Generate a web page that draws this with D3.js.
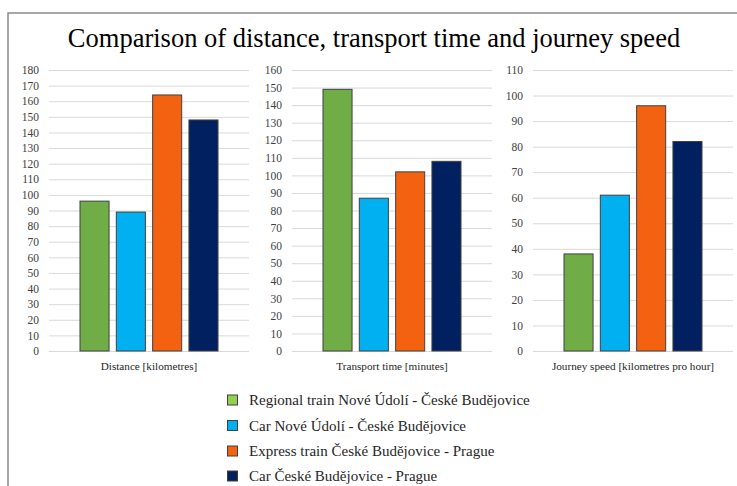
<!DOCTYPE html>
<html>
<head>
<meta charset="utf-8">
<script src="https://cdn.jsdelivr.net/npm/d3@7"></script>
<style>
  html, body { margin: 0; padding: 0; background: #fff; }
  svg { display: block; }
</style>
</head>
<body>
<svg id="chart" width="737" height="486"></svg>
<script>
// Transport modes (series), shared by all three panels
const series = [
  "Regional train Nové Údolí - České Budějovice",
  "Car Nové Údolí - České Budějovice",
  "Express train České Budějovice - Prague",
  "Car České Budějovice - Prague"
];
const seriesColors = ["#70AD47", "#00B0F0", "#F36210", "#002060"];
const legendColors = ["#92D050", "#00B0F0", "#F36210", "#002060"];

// Panel categories and their values (one per transport mode)
const panelLabels = ["Distance [kilometres]", "Transport time [minutes]", "Journey speed [kilometres pro hour]"];
const distanceValues = [96, 89, 164, 148];
const timeValues = [149, 87, 102, 108];
const speedValues = [38, 61, 96, 82];
const axisMax = [180, 160, 110];
const tickStep = 10;

const titleText = "Comparison of distance, transport time and journey speed";

const FONT = "'Liberation Serif', 'Times New Roman', Times, serif";

const svg = d3.select("#chart");
const W = 737, H = 486;

svg.append("rect").attr("width", W).attr("height", H).attr("fill", "#fff");

// Outer chart frame
svg.append("rect")
  .attr("x", 8).attr("y", 13)
  .attr("width", W + 20).attr("height", H + 20)
  .attr("fill", "none").attr("stroke", "#8a8a8a").attr("stroke-width", 1.5);

svg.append("text")
  .attr("x", 374).attr("y", 47)
  .attr("text-anchor", "middle")
  .style("font-family", FONT)
  .style("font-size", "26.5px")
  .attr("fill", "#000")
  .text(titleText);

const panels = [
  { label: panelLabels[0], values: distanceValues, max: axisMax[0], x0: 49, x1: 249 },
  { label: panelLabels[1], values: timeValues, max: axisMax[1], x0: 292, x1: 492 },
  { label: panelLabels[2], values: speedValues, max: axisMax[2], x0: 533, x1: 733 }
];

const yTop = 70, yBottom = 351;

panels.forEach(p => {
  const g = svg.append("g");
  const y = d3.scaleLinear().domain([0, p.max]).range([yBottom, yTop]);
  const x = d3.scaleBand()
    .domain(series)
    .range([p.x0 + 31, p.x1 - 31])
    .paddingInner(0.2)
    .paddingOuter(0);

  const ticks = d3.range(0, p.max + tickStep / 2, tickStep);

  // Horizontal gridlines and tick labels via a left axis
  const axis = d3.axisLeft(y).tickValues(ticks).tickSize(-(p.x1 - p.x0)).tickPadding(10).tickFormat(d3.format("d"));
  const ax = g.append("g").attr("transform", `translate(${p.x0},0)`).call(axis);
  ax.attr("font-family", null).attr("font-size", null);
  ax.select(".domain").remove();
  ax.selectAll(".tick line").attr("stroke", "#d9d9d9").attr("stroke-width", 1);
  ax.selectAll(".tick text")
    .style("font-family", FONT)
    .style("font-size", "11.5px")
    .attr("fill", "#404040");

  g.selectAll("rect.bar")
    .data(p.values)
    .join("rect")
    .attr("class", "bar")
    .attr("x", (d, i) => x(series[i]))
    .attr("y", d => y(d))
    .attr("width", x.bandwidth())
    .attr("height", d => yBottom - y(d))
    .attr("fill", (d, i) => seriesColors[i])
    .attr("stroke", "#404040")
    .attr("stroke-width", 1);

  g.append("text")
    .attr("x", (p.x0 + p.x1) / 2)
    .attr("y", 369.5)
    .attr("text-anchor", "middle")
    .style("font-family", FONT)
    .style("font-size", "11.2px")
    .attr("fill", "#262626")
    .text(p.label);
});

// Legend
const legendY = [400, 425.5, 451, 476];
const lg = svg.append("g");
series.forEach((s, i) => {
  lg.append("rect")
    .attr("x", 227.5).attr("y", legendY[i] - 5)
    .attr("width", 10).attr("height", 10)
    .attr("fill", legendColors[i])
    .attr("stroke", "#404040").attr("stroke-width", 1);
  lg.append("text")
    .attr("x", 249).attr("y", legendY[i] + 5)
    .style("font-family", FONT)
    .style("font-size", "15px")
    .attr("fill", "#262626")
    .text(s);
});
</script>
</body>
</html>
